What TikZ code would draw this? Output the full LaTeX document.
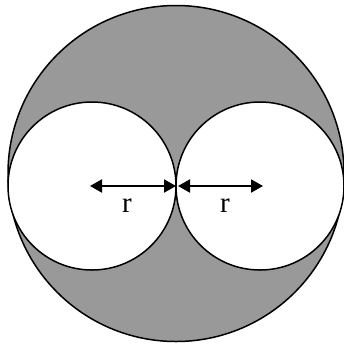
\documentclass[tikz,border=0pt]{standalone}
\usepackage{fontspec}
\setmainfont{Liberation Serif}
\usetikzlibrary{arrows.meta}
\definecolor{shade}{RGB}{153,153,153}
\begin{document}
\begin{tikzpicture}[x=1pt,y=-1pt,line width=1.5pt,
  ring/.style={circle,draw=black,fill=white,minimum size=168pt,inner sep=0pt,outer sep=0pt},
  radius arrow/.style={{Triangle[length=12pt,width=13pt]}-{Triangle[length=12pt,width=13pt]},line width=2pt},
  lbl/.style={font=\fontsize{29}{31}\selectfont,inner sep=0pt}]
\useasboundingbox (0,0) rectangle (344,343);
\node[circle,draw=black,fill=shade,minimum size=336pt,inner sep=0pt,outer sep=0pt] (big) at (176,173.5) {};
\node[ring] (L) at (92,186) {};
\node[ring] (R) at (260,186) {};
\coordinate (T) at (176,186);
\coordinate (Lc) at (90,186);
\coordinate (Rc) at (263,186);
\draw[radius arrow] (Lc) -- (T);
\draw[radius arrow] ([xshift=2pt]T) -- (Rc);
\node[lbl] (r1) at (127,206) {r};
\node[lbl] (r2) at (225,206) {r};
\end{tikzpicture}
\end{document}
